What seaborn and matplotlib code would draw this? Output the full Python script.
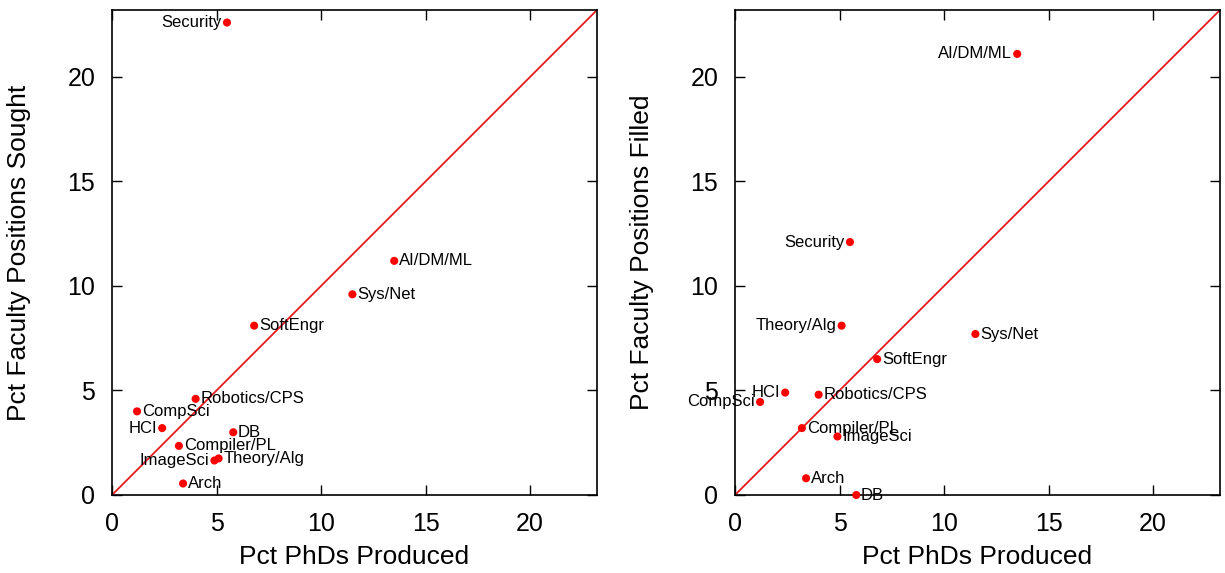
import matplotlib
matplotlib.use("Agg")
import matplotlib.pyplot as plt
import seaborn as sns
import pandas as pd

# Data
areas = ["Security", "AI/DM/ML", "Sys/Net", "SoftEngr", "Robotics/CPS", "CompSci",
         "HCI", "DB", "Compiler/PL", "ImageSci", "Theory/Alg", "Arch"]
pct_phds = [5.5, 13.5, 11.5, 6.8, 4.0, 1.2, 2.4, 5.8, 3.2, 4.9, 5.1, 3.4]
pct_sought = [22.6, 11.2, 9.6, 8.1, 4.6, 4.0, 3.2, 3.0, 2.35, 1.65, 1.75, 0.55]
pct_filled = [12.1, 21.1, 7.7, 6.5, 4.8, 4.45, 4.9, 0.0, 3.2, 2.8, 8.1, 0.8]

AX_MAX = 23.2
TICKS = [0, 5, 10, 15, 20]

# which side of the point each label sits on
left_labels_sought = {"Security", "HCI", "ImageSci"}
left_labels_filled = {"Security", "AI/DM/ML", "Theory/Alg", "HCI", "CompSci"}

sns.set_theme(style="ticks")
plt.rcParams["font.family"] = ["Liberation Sans", "DejaVu Sans"]
plt.rcParams["text.color"] = "black"
plt.rcParams["axes.labelcolor"] = "black"
plt.rcParams["xtick.color"] = "black"
plt.rcParams["ytick.color"] = "black"

fig = plt.figure(figsize=(12.25, 5.73), dpi=100)
ax1 = fig.add_axes([112 / 1225, 78 / 573, 485 / 1225, 485 / 573])
ax2 = fig.add_axes([735 / 1225, 78 / 573, 485 / 1225, 485 / 573])


def draw_panel(ax, yvals, ylabel, left_set):
    df = pd.DataFrame({"area": areas, "x": pct_phds, "y": yvals})
    ax.axline((0, 0), slope=1, color="#e41a1c", lw=1.3, zorder=1)
    sns.scatterplot(data=df, x="x", y="y", ax=ax, color="#ff0000", s=34,
                    edgecolor="none", zorder=3, legend=False, clip_on=False)
    for name, xv, yv in zip(df["area"], df["x"], df["y"]):
        if name in left_set:
            ax.annotate(name, (xv, yv), xytext=(-3.5, 0), textcoords="offset points",
                        ha="right", va="center", fontsize=12, color="black")
        else:
            ax.annotate(name, (xv, yv), xytext=(3.5, 0), textcoords="offset points",
                        ha="left", va="center", fontsize=12, color="black")
    ax.set_xlim(0, AX_MAX)
    ax.set_ylim(0, AX_MAX)
    ax.set_xticks(TICKS)
    ax.set_yticks(TICKS)
    ax.tick_params(direction="in", length=7, width=1, top=True, right=True,
                   labelsize=18, pad=12)
    ax.set_xlabel("Pct PhDs Produced", fontsize=19, labelpad=7)
    ax.set_ylabel(ylabel, fontsize=19)
    ax.yaxis.set_label_coords(-0.167, 0.5)
    for sp in ax.spines.values():
        sp.set_color("black")
        sp.set_linewidth(1.2)


draw_panel(ax1, pct_sought, "Pct Faculty Positions Sought", left_labels_sought)
draw_panel(ax2, pct_filled, "Pct Faculty Positions Filled", left_labels_filled)

fig.savefig("out.png", dpi=100)
